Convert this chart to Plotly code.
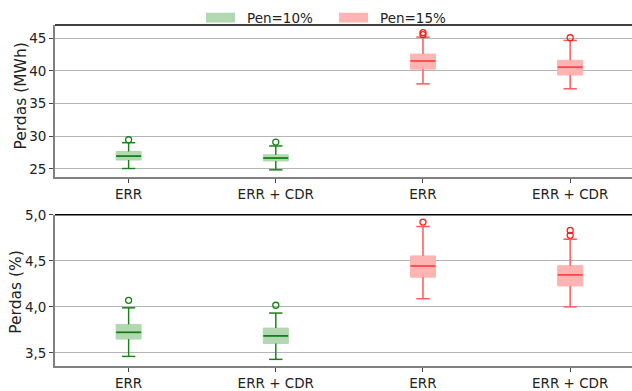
import plotly.graph_objects as go
from plotly.subplots import make_subplots

# Scenario labels along the x axis
categories = ["ERR", "ERR + CDR", "ERR", "ERR + CDR"]
penetration = ["Pen=10%", "Pen=10%", "Pen=15%", "Pen=15%"]

# Losses in MWh: five-number summaries and outliers per scenario
mwh_lower = [25.05, 24.85, 38.0, 37.25]
mwh_q1 = [26.35, 26.2, 40.25, 39.35]
mwh_median = [26.95, 26.65, 41.5, 40.55]
mwh_q3 = [27.65, 27.15, 42.55, 41.6]
mwh_upper = [29.0, 28.5, 45.15, 44.64]
mwh_outliers = [[29.45], [29.1], [45.54, 45.84], [45.05]]

# Losses in percent
pct_lower = [3.461, 3.429, 4.088, 4.0]
pct_q1 = [3.649, 3.602, 4.322, 4.227]
pct_median = [3.723, 3.684, 4.443, 4.347]
pct_q3 = [3.809, 3.769, 4.553, 4.447]
pct_upper = [3.989, 3.932, 4.872, 4.734]
pct_outliers = [[4.07], [4.017], [4.921], [4.777, 4.830]]

y_ticks_mwh = [25, 30, 35, 40, 45]
y_ticks_pct = [3.5, 4.0, 4.5, 5.0]

FONT = "DejaVu Sans"
BOX_W = 0.17
CAP_W = 0.09

styles = {
    "Pen=10%": dict(fill="rgb(178,216,178)", line="rgb(20,130,20)",
                    median="rgb(20,130,20)", marker="rgb(20,130,20)"),
    "Pen=15%": dict(fill="rgb(255,180,180)", line="rgb(255,90,90)",
                    median="rgb(255,70,70)", marker="rgb(255,30,30)"),
}

positions = list(range(1, len(categories) + 1))

fig = make_subplots(rows=2, cols=1)


def add_panel(row, lower, q1, med, q3, upper, outliers):
    for i, pos in enumerate(positions):
        st = styles[penetration[i]]
        # box body
        fig.add_trace(go.Box(
            x=[pos], q1=[q1[i]], median=[med[i]], q3=[q3[i]],
            lowerfence=[lower[i]], upperfence=[upper[i]],
            width=BOX_W, whiskerwidth=CAP_W / BOX_W,
            fillcolor=st["fill"], line=dict(color=st["fill"], width=1),
            boxpoints=False, showlegend=False, hoverinfo="skip",
        ), row=row, col=1)
        # whiskers and caps
        wx, wy = [], []
        for a, b in ((q3[i], upper[i]), (q1[i], lower[i])):
            wx += [pos, pos, None, pos - CAP_W / 2, pos + CAP_W / 2, None]
            wy += [a, b, None, b, b, None]
        fig.add_trace(go.Scatter(
            x=wx, y=wy, mode="lines", line=dict(color=st["line"], width=1.4),
            showlegend=False, hoverinfo="skip",
        ), row=row, col=1)
        # median
        fig.add_trace(go.Scatter(
            x=[pos - BOX_W / 2, pos + BOX_W / 2], y=[med[i], med[i]],
            mode="lines", line=dict(color=st["median"], width=1.8),
            showlegend=False, hoverinfo="skip",
        ), row=row, col=1)
        # outliers
        fig.add_trace(go.Scatter(
            x=[pos] * len(outliers[i]), y=outliers[i], mode="markers",
            marker=dict(symbol="circle-open", size=6,
                        color=st["marker"], line=dict(width=1.3)),
            showlegend=False, hoverinfo="skip",
        ), row=row, col=1)


add_panel(1, mwh_lower, mwh_q1, mwh_median, mwh_q3, mwh_upper, mwh_outliers)
add_panel(2, pct_lower, pct_q1, pct_median, pct_q3, pct_upper, pct_outliers)

W, H = 632, 391
M_L, M_R, M_T, M_B = 55, 0, 25, 18.3
plot_h = H - M_T - M_B
plot_w = W - M_L - M_R


def frac_y(py):
    return (H - M_B - py) / plot_h


def frac_x(px):
    return (px - M_L) / plot_w


x_common = dict(
    range=[0.5, 4.42], tickvals=positions, ticktext=categories,
    showgrid=False, zeroline=False, showline=True, linecolor="#808080",
    linewidth=1.8, ticks="outside", ticklen=4, tickcolor="#444",
    tickfont=dict(family=FONT, size=13.5, color="#222"),
)
y_common = dict(
    showgrid=True, gridcolor="#b4b4b4", gridwidth=1, zeroline=False,
    showline=True, linecolor="#808080", linewidth=1.8,
    ticks="outside", ticklen=4, tickcolor="#444",
    tickfont=dict(family=FONT, size=13.5, color="#222"),
)

fig.update_layout(
    width=W, height=H,
    margin=dict(l=M_L, r=M_R, t=M_T, b=M_B),
    paper_bgcolor="white", plot_bgcolor="white",
    separators=",.",
    showlegend=False,
    xaxis=dict(domain=[0, 1], **x_common),
    xaxis2=dict(domain=[0, 1], **x_common),
    yaxis=dict(domain=[frac_y(180), 1.0], range=[23.75, 47.0],
               tickvals=y_ticks_mwh, **y_common),
    yaxis2=dict(domain=[0.0, frac_y(218.5)], range=[3.357, 5.0],
                tickvals=y_ticks_pct, tickformat=".1f", **y_common),
)

# y-axis titles
for text, px, py in (("Perdas (MWh)", 21, 98), ("Perdas (%)", 16, 297)):
    fig.add_annotation(xref="paper", yref="paper", x=frac_x(px), y=frac_y(py),
                       text=text, textangle=-90, showarrow=False,
                       xanchor="center", yanchor="middle",
                       font=dict(family=FONT, size=15.5, color="#222"))

# black top spines
for yr in ("y domain", "y2 domain"):
    xr = "x domain" if yr == "y domain" else "x2 domain"
    fig.add_shape(type="line", xref=xr, yref=yr, x0=0, x1=1, y0=1, y1=1,
                  line=dict(color="black", width=1.3), layer="above")

# legend patches and labels above the upper panel
legend_items = [("Pen=10%", 206), ("Pen=15%", 339)]
for label, px in legend_items:
    fig.add_shape(type="rect", xref="paper", yref="paper",
                  x0=frac_x(px), x1=frac_x(px + 29),
                  y0=frac_y(22.5), y1=frac_y(12.5),
                  fillcolor=styles[label]["fill"], line=dict(width=0))
    fig.add_annotation(xref="paper", yref="paper", x=frac_x(px + 39),
                       y=frac_y(17.5), text=label, showarrow=False,
                       xanchor="left", yanchor="middle",
                       font=dict(family=FONT, size=13.5, color="#222"))

fig.write_html("out.html")
